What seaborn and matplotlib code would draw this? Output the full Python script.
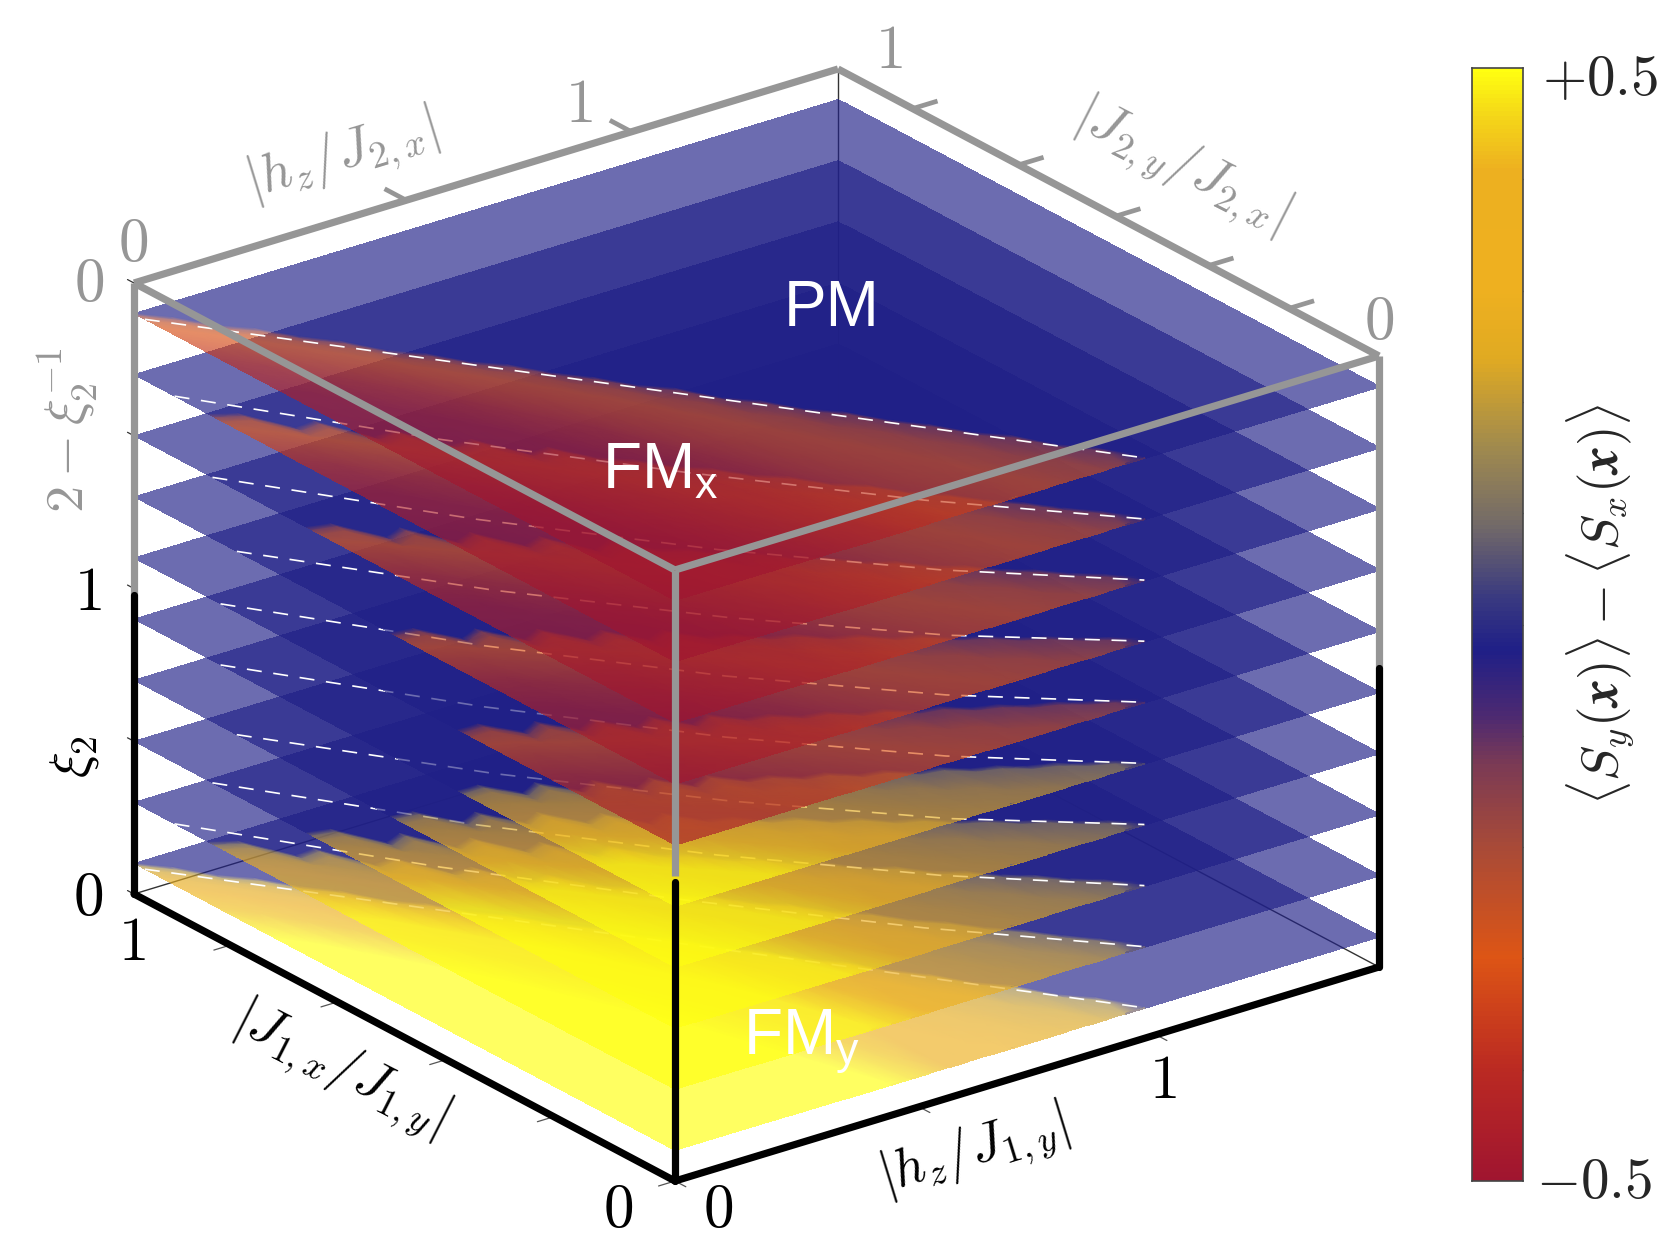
"""
Stacked phase diagram slices: <Sy> - <Sx> on ten planes of a box, drawn
with an oblique projection on a plain 2D axes.
"""

import numpy as np
import matplotlib
matplotlib.use("Agg")
import matplotlib.pyplot as plt
from matplotlib.colors import LinearSegmentedColormap
import seaborn as sns

sns.set_theme(style="white")
plt.rcParams['font.family'] = ['Liberation Sans', 'DejaVu Sans']
plt.rcParams['mathtext.fontset'] = 'cm'

# ===========================================================
# Data
# ===========================================================
z_levels = [0.1, 0.3, 0.5, 0.7, 0.9, 1.1, 1.3, 1.5, 1.7, 1.9]   # bottom to top

hz_grid = [i / 24 for i in range(25)] + [1.5]

# colour boundary a(hz) on a plane, jagged as in the numerics
boundary_rows = [
    [0.99, 0.955, 0.905, 0.875, 0.825, 0.79, 0.735, 0.705, 0.655, 0.625, 0.575, 0.54, 0.49,
     0.46, 0.405, 0.375, 0.325, 0.295, 0.245, 0.21, 0.16, 0.13, 0.075, 0.045, 0.0],
    [0.85, 0.833, 0.762, 0.765, 0.689, 0.693, 0.619, 0.619, 0.549, 0.55, 0.491, 0.465, 0.42,
     0.394, 0.349, 0.324, 0.278, 0.253, 0.208, 0.18, 0.139, 0.109, 0.069, 0.037, 0.0],
    [0.67, 0.662, 0.594, 0.606, 0.538, 0.549, 0.483, 0.493, 0.427, 0.438, 0.386, 0.368, 0.33,
     0.312, 0.274, 0.256, 0.218, 0.2, 0.163, 0.143, 0.109, 0.087, 0.054, 0.03, 0.0],
    [0.515, 0.51, 0.454, 0.467, 0.411, 0.425, 0.37, 0.38, 0.327, 0.339, 0.295, 0.284, 0.2525,
     0.241, 0.21, 0.198, 0.167, 0.155, 0.125, 0.11, 0.083, 0.067, 0.041, 0.023, 0.0],
    [0.39, 0.39, 0.342, 0.357, 0.31, 0.324, 0.277, 0.291, 0.245, 0.258, 0.2225, 0.216, 0.19,
     0.184, 0.1575, 0.151, 0.125, 0.119, 0.094, 0.084, 0.062, 0.052, 0.031, 0.018, 0.0],
]
# which boundary each plane uses, bottom to top
plane_boundary = [0, 1, 2, 3, 4, 4, 3, 2, 1, 0]

# distance below the boundary where each profile value sits, and how that
# band widens towards large hz
band_depth = [0.0, 0.015, 0.04, 0.08, 0.15, 0.25, 0.4, 0.65, 1.0]
band_stretch = [1.0, 1.0, 1.05, 1.1, 1.15, 1.2, 1.3, 1.4, 1.5, 1.7, 1.9, 2.1, 2.4,
                2.7, 3.0, 3.3, 3.6, 3.9, 4.2, 4.5, 4.8, 5.1, 5.4, 5.7, 6.0, 6.0]

navy = -0.023

red_top = [-0.16, -0.25, -0.29, -0.33, -0.38, -0.44, -0.47, -0.5, -0.5]
red_mid = [-0.16, -0.26, -0.3, -0.33, -0.38, -0.44, -0.47, -0.5, -0.5]
yellow_mid = [0.14, 0.21, 0.24, 0.3, 0.42, 0.5, 0.5, 0.5, 0.5]
yellow_bottom = [0.16, 0.22, 0.26, 0.31, 0.43, 0.5, 0.5, 0.5, 0.5]
plane_profile = [yellow_bottom, yellow_mid, yellow_mid, yellow_mid, yellow_mid,
                 red_mid, red_mid, red_mid, red_mid, red_top]

# analytic dashed line on each plane, a at these hz
dash_hz = [0.0, 0.25, 0.5, 0.75, 1.0]
dash_a = [
    [0.98, 0.735, 0.49, 0.245, 0.0],
    [0.925, 0.65, 0.41, 0.19, 0.0],
    [0.855, 0.585, 0.355, 0.16, 0.0],
    [0.81, 0.55, 0.33, 0.145, 0.0],
    [0.84, 0.57, 0.34, 0.15, 0.0],
    [0.84, 0.57, 0.34, 0.15, 0.0],
    [0.81, 0.55, 0.33, 0.145, 0.0],
    [0.855, 0.585, 0.355, 0.16, 0.0],
    [0.925, 0.65, 0.41, 0.19, 0.0],
    [0.98, 0.735, 0.49, 0.245, 0.0],
]

bottom_a_ticks = [0.0, 0.224, 0.423, 0.624, 0.822]
bottom_hz_ticks = [0.0, 0.52, 1.025]
top_a_ticks = [0.166, 0.315, 0.487, 0.666, 0.862]
top_hz_ticks = [0.58, 1.06]
z_ticks = [0.0, 0.5, 1.0, 1.5, 2.0]

cbar_pos = [0.0, 0.1, 0.2, 0.3, 0.375, 0.415, 0.477, 0.525, 0.59, 0.66, 0.74, 0.8, 0.91, 0.96, 1.0]
cbar_colors = ['#a01530', '#bb2a22', '#dd5515', '#a84a38', '#7a3a55', '#4f2a70', '#1f1f87',
               '#3a3a80', '#736a68', '#a08a4e', '#e0aa22', '#eeb020', '#edb020', '#f5d818', '#ffff10']
cbar_ticks = [0.4, 0.3, 0.2, 0.1, 0.0, -0.1, -0.2, -0.3, -0.4]

GRAY = '#969696'
LAYER_ALPHA = 0.66
cmap = LinearSegmentedColormap.from_list('phase', list(zip(cbar_pos, cbar_colors)))


# ===========================================================
# Projection: a goes front to left, hz front to right, z upwards
# ===========================================================
def project(a, hz, z):
    a, hz, z = np.asarray(a, float), np.asarray(hz, float), np.asarray(z, float)
    x = 675 - 541 * a + 704 * hz / 1.5
    y = 1181 - 287 * a - 214 * hz / 1.5 - 305.5 * z
    return x, y


def edge(ax, p0, p1, color, lw, zorder=100, cap='round'):
    x, y = project(*np.array([p0, p1]).T)
    ax.plot(x, y, color=color, lw=lw, zorder=zorder, solid_capstyle=cap)


def new_canvas():
    f = plt.figure(figsize=(16.76, 12.5), dpi=100)
    a = f.add_axes([0, 0, 1, 1])
    a.set_xlim(0, 1676)
    a.set_ylim(1250, 0)
    a.axis('off')
    return f, a


fig, ax = new_canvas()

# ===========================================================
# Hidden back edges, seen through the planes
# ===========================================================
edge(ax, (1, 1.5, 0), (1, 1.5, 2), '#333333', 1.0, zorder=1)
edge(ax, (1, 0, 0), (1, 1.5, 0), '#333333', 1.0, zorder=1)
edge(ax, (0, 1.5, 0), (1, 1.5, 0), '#333333', 1.0, zorder=1)

# ===========================================================
# Planes, bottom to top so the upper ones veil the lower ones.
# Each one is rendered opaque first, so triangle seams do not show
# when the veil alpha goes on.
# ===========================================================
hz_arr = np.array(hz_grid)
stretch = np.array(band_stretch)
depth = np.array(band_depth)
layer_fig, layer_ax = new_canvas()
layer_fig.patch.set_alpha(0.0)
for k, z in enumerate(z_levels):
    bound = np.array(boundary_rows[plane_boundary[k]] + [0.0])
    # the jag only lives at the edge, deeper bands follow a calmer line
    calm = bound.copy()
    calm[1:24] = 0.25 * bound[:23] + 0.5 * bound[1:24] + 0.25 * bound[2:25]
    rows = [np.ones_like(bound), np.minimum(bound + 0.012, 1.0)]
    for i, d in enumerate(depth):
        line = bound if i < 2 else calm
        row = np.maximum(line - d * stretch, 0.0)
        rows.append(np.minimum(row, rows[-1]))
    a_mesh = np.array(rows)
    hz_mesh = np.tile(hz_arr, (a_mesh.shape[0], 1))

    values = np.full(a_mesh.shape, navy)
    values[2:, :24] = np.array(plane_profile[k])[:, None]
    # rows squeezed onto the a=0 edge take the profile value at that edge,
    # otherwise they leave a hairline or steps along it
    for col in range(24):
        at_edge = np.interp(calm[col] / stretch[col], depth, plane_profile[k])
        values[a_mesh[:, col] <= 0.0, col] = at_edge

    X, Y = project(a_mesh, hz_mesh, z)
    mesh = layer_ax.pcolormesh(X, Y, values, shading='gouraud', cmap=cmap, vmin=-0.5, vmax=0.5)
    layer_fig.canvas.draw()
    rgba = np.array(layer_fig.canvas.buffer_rgba()).astype(float) / 255
    rgba[..., 3] = np.where(rgba[..., 3] > 0.5, LAYER_ALPHA, 0.0)
    mesh.remove()

    ax.imshow(rgba, extent=(0, 1676, 1250, 0), aspect='auto', interpolation='nearest',
              zorder=10 + 2 * k)

    dx, dy = project(dash_a[k], dash_hz, z)
    ax.plot(dx, dy, color='white', lw=1.2, ls=(0, (9, 7)), zorder=11 + 2 * k)
plt.close(layer_fig)
ax.set_xlim(0, 1676)
ax.set_ylim(1250, 0)

# ===========================================================
# Frame and ticks
# ===========================================================
LW = 5.2
for p0, p1 in [((1, 0, 2), (1, 1.5, 2)), ((1, 1.5, 2), (0, 1.5, 2)),
               ((1, 0, 2), (0, 0, 2)), ((0, 0, 2), (0, 1.5, 2)),
               ((1, 0, 2), (1, 0, 0.98)), ((0, 0, 2), (0, 0, 1.0)),
               ((0, 1.5, 2), (0, 1.5, 0.98))]:
    edge(ax, p0, p1, GRAY, LW, cap='butt')
for p0, p1 in [((1, 0, 0), (0, 0, 0)), ((0, 0, 0), (0, 1.5, 0)),
               ((1, 0, 0), (1, 0, 0.98)), ((0, 0, 0), (0, 0, 0.98)),
               ((0, 1.5, 0), (0, 1.5, 0.98))]:
    edge(ax, p0, p1, 'black', LW, cap='round')

for a in bottom_a_ticks:
    edge(ax, (a, 0, 0), (a, -0.035, 0), '#555555', 0.9, zorder=99)
for h in bottom_hz_ticks:
    edge(ax, (0, h, 0), (-0.02, h, 0), '#555555', 0.9, zorder=99)
for a in top_a_ticks:
    edge(ax, (a, 1.5, 2), (a, 1.553, 2), GRAY, 3.4, zorder=99, cap='butt')
for h in top_hz_ticks:
    edge(ax, (1, h, 2), (1.04, h, 2), GRAY, 3.4, zorder=99, cap='butt')
for z in z_ticks:
    edge(ax, (1, 0, z), (1.012, 0, z), '#333333', 0.9, zorder=99)

# ===========================================================
# Texts
# ===========================================================
NUM = 44
for s, x, y, c in [('0', 133, 246, GRAY), ('0', 89, 286, GRAY), ('0', 1379, 324, GRAY),
                   ('1', 579, 107, GRAY), ('1', 889, 53, GRAY),
                   ('1', 88, 595, 'black'), ('0', 88, 900, 'black'), ('1', 132, 944, 'black'),
                   ('0', 618, 1212, 'black'), ('0', 718, 1212, 'black'), ('1', 1163, 1083, 'black')]:
    ax.text(x, y, '$' + s + '$', color=c, fontsize=NUM, ha='center', va='center', zorder=110)

LBL = 39
for s, x, y, rot, c in [
        (r'$|h_z/J_{2,x}|$', 342, 157, 17, GRAY),
        (r'$|J_{2,y}/J_{2,x}|$', 1181, 166, -27, GRAY),
        (r'$|J_{1,x}/J_{1,y}|$', 340, 1069, -27, 'black'),
        (r'$|h_z/J_{1,y}|$', 973, 1152, 17, 'black'),
        (r'$\xi_2$', 74, 757, 90, 'black'),
        (r'$2-\xi_2^{-1}$', 68, 430, 90, GRAY)]:
    ax.text(x, y, s, color=c, fontsize=LBL, rotation=rot, ha='center', va='center',
            rotation_mode='anchor', zorder=110)

ax.text(832, 309, 'PM', color='white', fontsize=46, ha='center', va='center', zorder=120)
ax.text(660, 472, r'$\mathregular{FM_x}$', color='white', fontsize=46, ha='center', va='center', zorder=120)
ax.text(802, 1042, r'$\mathregular{FM_y}$', color='white', fontsize=46, ha='center', va='center', zorder=120)

ax.text(1600, 604, r'$\langle S_y(\boldsymbol{x})\rangle-\langle S_x(\boldsymbol{x})\rangle$',
        fontsize=38, rotation=90, ha='center', va='center')
ax.text(1600, 80, '$+0.5$', fontsize=41, ha='center', va='center')
ax.text(1594, 1183, '$-0.5$', fontsize=41, ha='center', va='center')

# ===========================================================
# Colorbar
# ===========================================================
cax = fig.add_axes([1472 / 1676, 1 - 1181 / 1250, 51 / 1676, 1113 / 1250])
levels = np.linspace(0.5, -0.5, 256)
sns.heatmap(levels[:, None], cmap=cmap, vmin=-0.5, vmax=0.5, cbar=False, ax=cax,
            xticklabels=False, yticklabels=False)
cax.set_yticks([(0.5 - t) * 256 for t in cbar_ticks])
cax.set_yticklabels([])
cax.yaxis.tick_right()
cax.tick_params(axis='y', direction='in', length=9.5, width=0.9, color='#333333', right=True, left=False)
for spine in cax.spines.values():
    spine.set_visible(True)
    spine.set_color('#444444')
    spine.set_linewidth(1.2)

fig.savefig("out.png", dpi=100)
